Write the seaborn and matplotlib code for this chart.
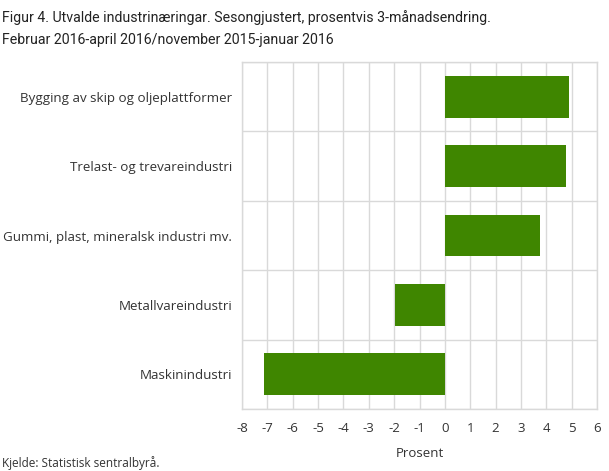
import numpy as np
import pandas as pd
import seaborn as sns
import matplotlib.pyplot as plt

categories = ['Bygging av skip og oljeplattformer', 'Trelast- og trevareindustri',
              'Gummi, plast, mineralsk industri mv.', 'Metallvareindustri', 'Maskinindustri']
values = [4.89, 4.77, 3.75, -1.97, -7.14]
xticks = list(range(-8, 7))

df = pd.DataFrame({'Næring': categories, 'Prosent': values})

sns.set_style('white')
plt.rcParams['font.family'] = ['Open Sans', 'DejaVu Sans']

fig = plt.figure(figsize=(6.09, 4.71), dpi=100)
ax = fig.add_axes([242 / 609, 1 - 409 / 471, 355 / 609, 347 / 471])

sns.barplot(data=df, x='Prosent', y='Næring', color='#3f8600', saturation=1,
            width=0.6, linewidth=0, ax=ax, zorder=3)

ax.set_xlim(-8, 6)
ax.set_xticks(xticks)
ax.set_xticklabels([str(t) for t in xticks], fontsize=9.5, color='#333333')
ax.set_ylim(len(categories) - 0.5, -0.5)
ax.set_yticks(range(len(categories)))
ax.set_yticklabels(categories, fontsize=9.6, color='#333333')
ax.set_yticks(np.arange(len(categories) + 1) - 0.5, minor=True)
ax.tick_params(axis='both', which='both', length=0)
ax.tick_params(axis='x', pad=9)
ax.tick_params(axis='y', pad=7)

ax.grid(axis='x', which='major', color='#d9d9d9', lw=1, zorder=0)
ax.grid(axis='y', which='minor', color='#d9d9d9', lw=1, zorder=0)
ax.set_axisbelow(True)
for s in ax.spines.values():
    s.set_color('#d9d9d9')
    s.set_linewidth(1)

ax.set_xlabel('Prosent', fontsize=9.5, color='#333333', labelpad=9)
ax.set_ylabel('')

# title font in the original is a condensed face; Roboto is the closest narrow one here
fig.text(0.003, 0.978, 'Figur 4. Utvalde industrinæringar. Sesongjustert, prosentvis 3-månadsendring.\n'
         'Februar 2016-april 2016/november 2015-januar 2016',
         fontsize=10.2, va='top', ha='left', color='#222222', linespacing=1.7,
         family=['Roboto', 'DejaVu Sans'])
fig.text(0.003, 0.003, 'Kjelde: Statistisk sentralbyrå.', fontsize=8.5, va='bottom',
         ha='left', color='#333333')

fig.savefig('out.png', dpi=100)
